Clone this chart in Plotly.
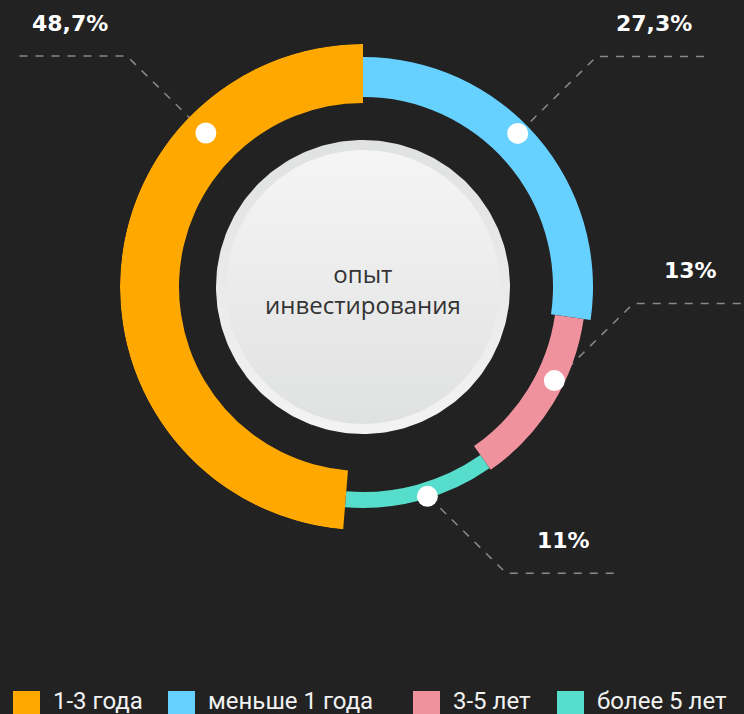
import numpy as np
import plotly.graph_objects as go

# ---------------- data ----------------
categories = ["меньше 1 года", "3-5 лет", "более 5 лет", "1-3 года"]   # clockwise from 12 o'clock
shares = [27.3, 13, 11, 48.7]
value_labels = ["27,3%", "13%", "11%", "48,7%"]
legend_order = ["1-3 года", "меньше 1 года", "3-5 лет", "более 5 лет"]
center_title = "опыт<br>инвестирования"

# ---------------- style ----------------
W, H = 744, 714
BG = "#222222"
colors = {"меньше 1 года": "#66D1FF", "3-5 лет": "#F0929D",
          "более 5 лет": "#57DDCB", "1-3 года": "#FFA800"}
inner_r = {"меньше 1 года": 190, "3-5 лет": 194, "более 5 лет": 205, "1-3 года": 184}
outer_r = {"меньше 1 года": 230, "3-5 лет": 223, "более 5 лет": 221, "1-3 года": 243}
dot_frac = {"меньше 1 года": 0.46, "3-5 лет": 0.38, "более 5 лет": 0.45, "1-3 года": 0.74}
dot_r = {"меньше 1 года": 218, "3-5 лет": 213, "более 5 лет": 219, "1-3 года": 220}
leader_dir = {"меньше 1 года": (1, -1), "3-5 лет": (1, -1), "более 5 лет": (1, 1), "1-3 года": (-1, -1)}
CX, CY, RMAX = 363, 287, 243
legend_x = [13, 168, 413, 557]

# ---------------- geometry from data ----------------
sh = np.array(shares, dtype=float)
deg = sh / sh.sum() * 360.0
starts = np.concatenate([[0], np.cumsum(deg)[:-1]])
mids = starts + deg / 2

fig = go.Figure()

# center disc (ring + face) in pixel-coordinate cartesian axes
t = np.linspace(0, 2 * np.pi, 241)
for rad, c_top, c_bot in [(147, "#e0e1e1", "#f3f3f3"), (137, "#f5f5f5", "#e0e1e1")]:
    fig.add_trace(go.Scatter(
        x=CX + rad * np.cos(t), y=CY + rad * np.sin(t), mode="lines",
        line=dict(width=0, color=c_top), fill="toself",
        fillgradient=dict(type="vertical", colorscale=[[0, c_top], [1, c_bot]],
                          start=CY - rad, stop=CY + rad),
        hoverinfo="skip", showlegend=False, xaxis="x", yaxis="y"))

# donut segments
fig.add_trace(go.Barpolar(
    theta=mids, width=deg,
    base=[inner_r[c] for c in categories],
    r=[outer_r[c] - inner_r[c] for c in categories],
    marker=dict(color=[colors[c] for c in categories], line=dict(width=0)),
    hoverinfo="skip", showlegend=False, subplot="polar"))

# dots
dth = np.array([starts[i] + dot_frac[c] * deg[i] for i, c in enumerate(categories)])
drr = np.array([dot_r[c] for c in categories])
fig.add_trace(go.Scatterpolar(
    theta=dth, r=drr, mode="markers",
    marker=dict(size=21, color="white", line=dict(width=0)),
    hoverinfo="skip", showlegend=False, subplot="polar"))

annotations = []
dx_px = CX + drr * np.sin(np.radians(dth))
dy_px = CY - drr * np.cos(np.radians(dth))
for i, c in enumerate(categories):
    sx, sy = leader_dir[c]
    x0, y0 = dx_px[i] + sx * 13, dy_px[i] + sy * 12
    ex, ey = dx_px[i] + sx * 79, dy_px[i] + sy * 77
    hx = ex + sx * 115
    fig.add_trace(go.Scatter(
        x=[x0, ex, hx], y=[y0, ey, ey], mode="lines",
        line=dict(color="#8a8a8a", width=1.5, dash="8px,8px"),
        hoverinfo="skip", showlegend=False, xaxis="x", yaxis="y"))
    annotations.append(dict(
        x=ex + sx * 57, y=ey - 33, xref="x", yref="y", text=value_labels[i],
        showarrow=False, xanchor="center", yanchor="middle",
        font=dict(family="DejaVu Sans", size=22, color="white", weight="bold")))

annotations.append(dict(
    x=CX, y=CY + 2, xref="x", yref="y", text=center_title, showarrow=False,
    xanchor="center", yanchor="middle",
    font=dict(family="Open Sans", size=24, color="#333333")))

shapes = []
for lx, name in zip(legend_x, legend_order):
    shapes.append(dict(type="rect", xref="x", yref="y", x0=lx, x1=lx + 27,
                       y0=691, y1=718, fillcolor=colors[name], line=dict(width=0)))
    annotations.append(dict(
        x=lx + 38, y=701, xref="x", yref="y", text=name, showarrow=False,
        xanchor="left", yanchor="middle",
        font=dict(family="Roboto", size=24, color="#f2f2f2")))

fig.update_layout(
    width=W, height=H, paper_bgcolor=BG, plot_bgcolor=BG,
    margin=dict(l=0, r=0, t=0, b=0), showlegend=False,
    xaxis=dict(range=[0, W], domain=[0, 1], visible=False, fixedrange=True),
    yaxis=dict(range=[H, 0], domain=[0, 1], visible=False, fixedrange=True),
    polar=dict(
        domain=dict(x=[(CX - RMAX) / W, (CX + RMAX) / W],
                    y=[(H - CY - RMAX) / H, (H - CY + RMAX) / H]),
        bgcolor="rgba(0,0,0,0)", hole=0,
        radialaxis=dict(range=[0, RMAX], visible=False),
        angularaxis=dict(rotation=90, direction="clockwise", visible=False),
    ),
    shapes=shapes, annotations=annotations,
)

fig.write_html(
    "out.html",
    config={"displayModeBar": False, "staticPlot": True},
    post_script="document.body.style.margin='0';document.body.style.background='" + BG + "';"
                "document.body.style.overflow='hidden';",
)
